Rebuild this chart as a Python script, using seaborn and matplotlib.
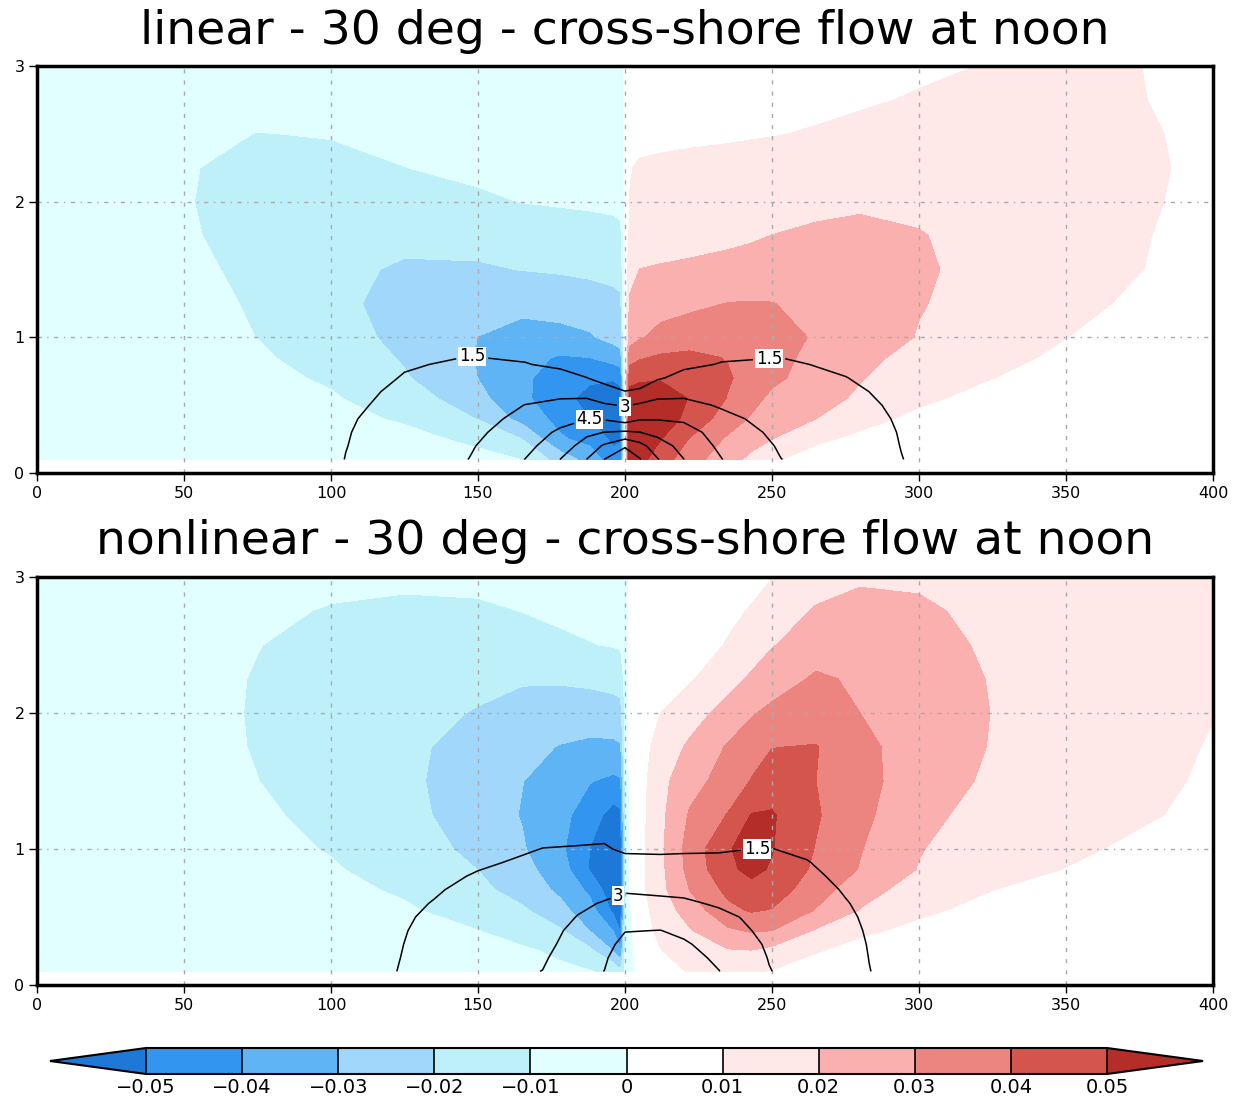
import numpy as np
import matplotlib
matplotlib.use("Agg")
import matplotlib.pyplot as plt
from matplotlib.colors import ListedColormap, BoundaryNorm
import seaborn as sns

# ---------------- data ----------------
# grid nodes of the shaded cross-shore flow field (x in km, z in km)
X_NODES = [0, 25, 50, 75, 100, 125, 150, 165, 178, 188, 196, 198.5, 200,
           201.5, 205, 212, 222, 235, 243, 250, 265, 280, 300, 325, 350, 375, 400]
Z_NODES = [0.1, 0.25, 0.4, 0.55, 0.7, 0.85, 1.0, 1.25, 1.5, 1.75, 2.0, 2.25, 2.5, 2.75, 3.0]

# cross-shore flow, in units of 0.001 (rows = Z_NODES, columns = X_NODES)
U_LINEAR_MILLI = [
    [-4, -4, -4, -5, -5, -6, -8, -10.1, -24.4, -33.7, -46, -46, 2, 58, 53, 45, 34, 24, 17.5, 11.5, 5, 4.5, 4.2, 4, 4, 4, 4],
    [-4, -4, -5, -5, -6, -8, -11.5, -20.1, -38.6, -43.3, -52.2, -51, 2, 60, 58, 50.5, 39.5, 28.5, 24, 20, 12, 7.5, 5, 4, 4, 4, 4],
    [-4, -4, -5, -6, -8, -10.8, -20.4, -33.5, -43.3, -50.1, -55, -54, 2, 58, 59, 56, 47, 35, 29, 24, 20, 13.5, 7.5, 5, 4, 4, 4],
    [-4, -5, -6, -7, -9.2, -14.2, -27, -38, -46, -54, -57, -55, 2, 55, 57, 56, 49.5, 39.5, 33, 28, 23.5, 18.5, 12, 6.5, 5, 4, 4],
    [-4, -5, -6, -8, -11, -19, -30.1, -38, -45, -48, -49, -47, 2, 46, 48, 49, 47, 41, 36.5, 32, 26, 20.5, 15, 10.1, 6, 4.5, 4],
    [-4, -5, -7, -9, -13, -21, -30.5, -37, -41, -40, -36, -34, 2, 36, 39, 41.5, 42.5, 39.5, 36.5, 33.5, 27, 22, 17.5, 13, 8, 5, 4.5],
    [-4, -5, -7, -10.1, -15, -23, -30.1, -34, -33, -31, -27, -25, 2, 25, 29, 33, 35, 35, 34.5, 34, 29, 25, 19.5, 15, 10.1, 6.5, 5],
    [-4, -5, -7, -11, -17, -24, -27, -27, -26, -25, -23, -22, 2, 21, 24, 26, 28, 30.2, 30.4, 30.2, 28, 26, 20.5, 16.5, 12.5, 8.5, 6],
    [-4, -5, -8, -12, -18, -21, -21, -19.8, -19, -18, -17, -16, 2, 17, 20.1, 21, 22, 23.5, 24.3, 25, 26, 25.5, 22, 15, 12.5, 10.2, 7],
    [-4, -6, -9, -13, -16, -18, -17, -16, -15, -14, -13, -12, 2, 11, 14, 15, 16, 17.5, 18.8, 20.1, 22, 22.5, 20.5, 16.5, 13, 10.5, 7.5],
    [-4, -6, -9.5, -13, -15, -14, -11.5, -9.8, -9, -8.5, -8, -7.5, 2, 10.2, 12, 12.5, 13, 14, 14.8, 15.5, 17, 18.5, 18, 15.5, 13, 11, 8],
    [-4, -6, -9.3, -12.5, -12.5, -10.1, -8, -7, -6.5, -6, -6, -5.5, 2, 9.5, 11, 11.5, 12, 12.5, 12.8, 13, 14, 15, 16, 15.5, 13.5, 11.5, 8],
    [-4, -5, -7.5, -10.2, -9.5, -7.8, -6.5, -6, -5.5, -5, -5, -4.5, 2, 7, 7.5, 8, 8.5, 9, 9.4, 9.7, 10.5, 11.5, 12.5, 13, 12.5, 11, 8],
    [-4, -4, -5, -6, -6, -5.5, -5, -5, -4.5, -4.5, -4.2, -4, 2, 6, 6, 6.5, 7, 7.5, 7.8, 8, 8.5, 9.3, 10.5, 11.5, 11.5, 10.3, 7.5],
    [-3.5, -3.5, -3.5, -3.5, -4, -4, -4, -4, -4, -4, -4, -4, 2, 5, 5, 5.5, 6, 6.5, 6.8, 7, 7.5, 8, 9, 10.3, 10.5, 10.1, 7],
]

U_NONLINEAR_MILLI = [
    [-3, -3, -4, -4, -5, -5, -6, -7, -8, -9.5, -12, -18, -8, -4, 3, 7, 10.5, 11.5, 11, 9.5, 6, 5, 4, 4, 3.5, 3, 3],
    [-3, -3, -4, -5, -5, -6, -7, -8.5, -11.8, -17.5, -30.2, -38, -10, -3, 4, 9.5, 15.5, 19, 19.5, 17, 10.5, 7, 5, 4, 3.5, 3, 3],
    [-3, -3, -4, -5, -6, -8, -9.9, -14, -19, -30.2, -40.2, -51, -10, -2, 5, 12.5, 19.2, 28.5, 31, 30, 19, 11.5, 8, 6, 4.5, 3.5, 3],
    [-3, -4, -4, -5, -7, -9, -13.5, -18.5, -27, -36, -52, -55, -12, -1, 6, 14.5, 24.5, 37.5, 41, 39.5, 29.5, 19.5, 11.5, 7.5, 5.5, 4, 3.5],
    [-3, -4, -5, -6, -8, -11, -17.5, -24, -32, -42, -57, -57, -12, 1, 7, 17, 30.2, 42.5, 47, 45.5, 34, 24.5, 15, 10.1, 7, 5, 4],
    [-3, -4, -5, -7, -9.2, -13.5, -20.1, -27, -35, -50.5, -58, -56, -12, 1, 7, 17.5, 33, 48, 52.5, 49, 38, 29.5, 19.5, 13, 9.8, 7, 5],
    [-3, -4, -5, -7.5, -10.5, -15, -22.5, -29, -38, -50.2, -57, -55, -12, 1, 7, 18, 34, 49, 55, 50.5, 39.5, 30.5, 20.5, 14.5, 11.5, 8.5, 6],
    [-3, -4, -6, -8.5, -12.5, -17, -25, -30.5, -37, -45, -54, -52, -11, 1, 6.5, 17.5, 31, 40.5, 50.5, 51, 41, 32.5, 22.5, 16.5, 13, 11, 8],
    [-3, -4, -6.5, -9.9, -14, -18, -25, -29.8, -34, -39.5, -42, -41, -10, 1, 6, 17, 26.5, 34, 40.5, 44.5, 40, 33.5, 24.5, 18.5, 14.5, 11.8, 9],
    [-3, -4.5, -7, -10.5, -14.5, -18, -23.5, -27, -30.5, -32, -32, -31, -9, 1, 5, 14.5, 21.5, 31, 36, 39.8, 40.5, 32.5, 25.5, 19.5, 15.5, 12.5, 9.5],
    [-3, -4.5, -7, -10.7, -14, -17.5, -20.5, -23, -24.5, -25, -24, -23, -8, 1, 4, 10, 16, 23.5, 29, 32.5, 34.5, 30, 25.5, 19.8, 16, 13, 10.2],
    [-3, -4.5, -7, -10.5, -13.5, -16, -18, -19.2, -19, -18, -17, -16, -7, 1, 3, 6, 9, 16.5, 21.5, 25, 31.5, 28.5, 24.5, 19.5, 15.8, 13.5, 11.2],
    [-3, -4, -6.5, -9.8, -12.5, -14.5, -14.5, -13, -11.5, -10.3, -9.5, -9, -5, 1, 2, 4, 6.5, 10.5, 15, 19.5, 25, 25.5, 23.5, 18.5, 15, 13, 11.5],
    [-3, -4, -5.5, -8, -10.7, -11.8, -11.2, -9.9, -8.5, -7.8, -7.2, -7, -4, 1, 1.5, 3, 5, 8.5, 10.5, 14, 21, 23.5, 21.5, 17.5, 14.5, 12.8, 11.5],
    [-3, -3.5, -4.5, -6, -7.5, -8.2, -8, -7.5, -7, -6.5, -6, -5.8, -3, 1, 1, 2, 4, 6, 8, 9.8, 15.5, 18.5, 18.5, 16, 13.8, 12.5, 11.2],
]

# contoured (black line) field, linear run
TX_LINEAR = [90, 105, 125, 147, 166, 178, 187, 193, 200, 205, 211, 220, 233, 253, 275, 294, 310]
TZ_LINEAR = [0.1, 0.2, 0.3, 0.4, 0.5, 0.6, 0.7, 0.8, 0.9, 1.0, 1.2]
T_LINEAR = [
    [0.9, 1.52, 2.05, 3.02, 4.52, 6.02, 7.52, 9.02, 10.3, 9.1, 7.6, 6.02, 4.52, 3.02, 2.2, 1.52, 1.1],
    [0.88, 1.48, 2.0, 2.85, 4.1, 5.3, 6.6, 7.7, 8.8, 8.0, 6.7, 5.5, 4.2, 2.85, 2.12, 1.48, 1.08],
    [0.85, 1.45, 1.95, 2.65, 3.7, 4.75, 5.7, 6.02, 6.2, 6.02, 5.6, 5.15, 3.8, 2.65, 2.03, 1.45, 1.05],
    [0.8, 1.4, 1.88, 2.45, 3.35, 4.0, 4.45, 4.35, 3.8, 4.35, 4.4, 4.25, 3.35, 2.45, 1.93, 1.4, 1.0],
    [0.75, 1.3, 1.8, 2.25, 3.02, 3.35, 3.45, 3.15, 2.9, 3.2, 3.4, 3.4, 2.85, 2.25, 1.82, 1.33, 0.95],
    [0.7, 1.2, 1.7, 2.05, 2.55, 2.6, 2.55, 1.95, 1.52, 1.6, 2.5, 2.6, 2.4, 2.05, 1.68, 1.25, 0.9],
    [0.6, 1.05, 1.56, 1.85, 2.05, 1.9, 1.52, 1.15, 1.0, 1.15, 1.35, 1.9, 1.95, 1.85, 1.52, 1.15, 0.82],
    [0.5, 0.9, 1.42, 1.63, 1.55, 1.3, 1.05, 0.8, 0.7, 0.85, 1.0, 1.25, 1.57, 1.62, 1.35, 1.02, 0.75],
    [0.4, 0.75, 1.25, 1.42, 1.25, 1.0, 0.8, 0.6, 0.5, 0.6, 0.75, 0.95, 1.2, 1.38, 1.15, 0.9, 0.67],
    [0.35, 0.6, 1.1, 1.25, 1.05, 0.85, 0.65, 0.48, 0.35, 0.45, 0.6, 0.75, 0.95, 1.15, 1.0, 0.8, 0.6],
    [0.25, 0.4, 0.8, 0.9, 0.75, 0.6, 0.45, 0.3, 0.2, 0.3, 0.4, 0.5, 0.65, 0.8, 0.7, 0.55, 0.45],
]

# contoured (black line) field, nonlinear run
TX_NONLINEAR = [110, 123, 135, 150, 172, 184, 193, 200, 212, 220, 232, 240, 249, 262, 275, 283, 295]
TZ_NONLINEAR = [0.1, 0.2, 0.3, 0.4, 0.5, 0.6, 0.7, 0.8, 0.9, 1.0, 1.1, 1.3]
T_NONLINEAR = [
    [1.1, 1.52, 1.95, 2.5, 3.02, 4.0, 4.52, 5.9, 5.6, 5.2, 4.52, 3.9, 3.05, 2.45, 1.95, 1.52, 1.15],
    [1.08, 1.48, 1.87, 2.38, 2.85, 3.75, 4.3, 5.4, 5.2, 4.9, 4.3, 3.65, 2.95, 2.38, 1.88, 1.49, 1.13],
    [1.05, 1.45, 1.8, 2.25, 2.68, 3.5, 4.05, 4.9, 4.85, 4.65, 4.0, 3.4, 2.85, 2.3, 1.8, 1.46, 1.1],
    [1.02, 1.42, 1.72, 2.12, 2.5, 3.35, 3.8, 4.45, 4.52, 4.25, 3.65, 3.15, 2.72, 2.2, 1.72, 1.42, 1.07],
    [0.98, 1.38, 1.63, 1.99, 2.32, 3.05, 3.5, 3.9, 3.95, 3.75, 3.3, 2.95, 2.58, 2.08, 1.63, 1.38, 1.03],
    [0.94, 1.33, 1.53, 1.85, 2.15, 2.75, 3.1, 3.3, 3.3, 3.2, 2.85, 2.65, 2.4, 1.94, 1.54, 1.33, 0.99],
    [0.9, 1.27, 1.43, 1.71, 1.97, 2.4, 2.6, 2.9, 2.75, 2.7, 2.45, 2.35, 2.2, 1.8, 1.44, 1.27, 0.95],
    [0.84, 1.2, 1.33, 1.56, 1.8, 2.1, 2.2, 2.3, 2.25, 2.2, 2.1, 2.05, 1.98, 1.66, 1.33, 1.2, 0.9],
    [0.78, 1.12, 1.22, 1.41, 1.65, 1.8, 1.9, 1.8, 1.8, 1.8, 1.75, 1.78, 1.78, 1.53, 1.22, 1.12, 0.85],
    [0.72, 1.04, 1.12, 1.28, 1.51, 1.55, 1.6, 1.35, 1.3, 1.35, 1.4, 1.48, 1.52, 1.38, 1.12, 1.04, 0.8],
    [0.66, 0.96, 1.02, 1.15, 1.38, 1.35, 1.35, 1.15, 1.1, 1.15, 1.2, 1.25, 1.3, 1.2, 1.0, 0.96, 0.75],
    [0.55, 0.82, 0.85, 0.95, 1.15, 1.1, 1.05, 0.9, 0.85, 0.9, 0.95, 1.0, 1.0, 0.95, 0.8, 0.8, 0.65],
]

LEVELS = [-0.05, -0.04, -0.03, -0.02, -0.01, 0.0, 0.01, 0.02, 0.03, 0.04, 0.05]
BAND_COLORS = ["#3296f0", "#5fb4f5", "#a0d7fa", "#bef0fa", "#e1ffff",
               "#ffffff", "#ffe8e8", "#fab0af", "#ec8480", "#d4554e"]
UNDER_COLOR = "#1e78d7"
OVER_COLOR = "#b42d28"
CB_TICK_LABELS = ["\u22120.05", "\u22120.04", "\u22120.03", "\u22120.02", "\u22120.01", "0",
                  "0.01", "0.02", "0.03", "0.04", "0.05"]

T_LEVELS_LINEAR = [1.5, 3, 4.5, 6, 7.5, 9]
T_LEVELS_NONLINEAR = [1.5, 3, 4.5]
LABELLED_LEVELS = [1.5, 3, 4.5]
LABEL_POS_LINEAR = [(148, 0.86), (249, 0.86), (200, 0.48), (188, 0.41)]
LABEL_POS_NONLINEAR = [(197, 0.70), (245, 1.00)]

TITLES = ["linear - 30 deg - cross-shore flow at noon",
          "nonlinear - 30 deg - cross-shore flow at noon"]
X_TICKS = [0, 50, 100, 150, 200, 250, 300, 350, 400]
Z_TICKS = [0, 1, 2, 3]
GRID_X = [50, 100, 150, 200, 250, 300, 350]
GRID_Z = [1, 2]

# ---------------- styling ----------------
sns.set_theme(style="white")
plt.rcParams["font.family"] = ["DejaVu Sans"]
plt.rcParams["text.color"] = "black"
plt.rcParams["xtick.color"] = "black"
plt.rcParams["ytick.color"] = "black"
plt.rcParams["axes.labelcolor"] = "black"

palette = sns.color_palette(BAND_COLORS)
cmap = ListedColormap(palette)
cmap.set_under(UNDER_COLOR)
cmap.set_over(OVER_COLOR)
norm = BoundaryNorm(LEVELS, ncolors=len(BAND_COLORS))

W, H = 1234, 1101
fig = plt.figure(figsize=(W / 100, H / 100), dpi=100)
fig.patch.set_facecolor("white")


def fx(px):
    return px / W


def fy(py):
    return 1 - py / H


def draw_panel(ax, U_milli, tx, tz, tfield, t_levels, label_pos):
    ax.set_facecolor("white")
    X, Z = np.meshgrid(X_NODES, Z_NODES)
    U = np.array(U_milli, dtype=float) / 1000.0
    cf = ax.contourf(X, Z, U, levels=LEVELS, cmap=cmap, norm=norm,
                     extend="both", zorder=1)
    for gx in GRID_X:
        ax.axvline(gx, color="#aaaaaa", lw=1.0, ls=(0, (3, 5)), zorder=1.5)
    for gz in GRID_Z:
        ax.axhline(gz, color="#aaaaaa", lw=1.0, ls=(0, (3, 4, 1, 4)), zorder=1.5)
    TX, TZ = np.meshgrid(tx, tz)
    cs = ax.contour(TX, TZ, np.array(tfield, dtype=float), levels=t_levels,
                    colors="black", linewidths=1.1, zorder=2)
    labels = ax.clabel(cs, levels=LABELLED_LEVELS, manual=label_pos,
                       inline=True, inline_spacing=3,
                       fmt=lambda v: f"{v:g}", fontsize=12)
    for t in labels:
        t.set_rotation(0)
        t.set_color("black")
        t.set_bbox(dict(facecolor="white", edgecolor="none", pad=0.5))
        t.set_zorder(3)
    ax.set_xlim(0, 400)
    ax.set_ylim(0, 3)
    ax.set_xticks(X_TICKS)
    ax.set_yticks(Z_TICKS)
    ax.tick_params(axis="both", direction="out", length=6, width=1,
                   labelsize=11.5, pad=3, bottom=True, left=True,
                   top=False, right=False)
    for sp in ax.spines.values():
        sp.set_linewidth(2.5)
        sp.set_color("black")
        sp.set_zorder(4)
    return cf


ax1 = fig.add_axes([fx(37), fy(473), fx(1213) - fx(37), fy(66) - fy(473)])
cf1 = draw_panel(ax1, U_LINEAR_MILLI, TX_LINEAR, TZ_LINEAR, T_LINEAR,
                 T_LEVELS_LINEAR, LABEL_POS_LINEAR)

ax2 = fig.add_axes([fx(37), fy(985), fx(1213) - fx(37), fy(577) - fy(985)])
cf2 = draw_panel(ax2, U_NONLINEAR_MILLI, TX_NONLINEAR, TZ_NONLINEAR,
                 T_NONLINEAR, T_LEVELS_NONLINEAR, LABEL_POS_NONLINEAR)

fig.text(fx(625), fy(31), TITLES[0], ha="center", va="center", fontsize=34)
fig.text(fx(625), fy(542), TITLES[1], ha="center", va="center", fontsize=34)

cax = fig.add_axes([fx(50), fy(1074), fx(1203) - fx(50), fy(1048) - fy(1074)])
cb = fig.colorbar(cf2, cax=cax, orientation="horizontal", extend="both",
                  extendfrac=0.1, drawedges=True, ticks=LEVELS)
cb.set_ticklabels(CB_TICK_LABELS)
cb.ax.tick_params(length=0, labelsize=14, pad=3)
cb.outline.set_linewidth(1.5)
cb.outline.set_edgecolor("black")
cb.dividers.set_color("black")
cb.dividers.set_linewidth(1.2)

fig.savefig("out.png", dpi=100, facecolor="white")
